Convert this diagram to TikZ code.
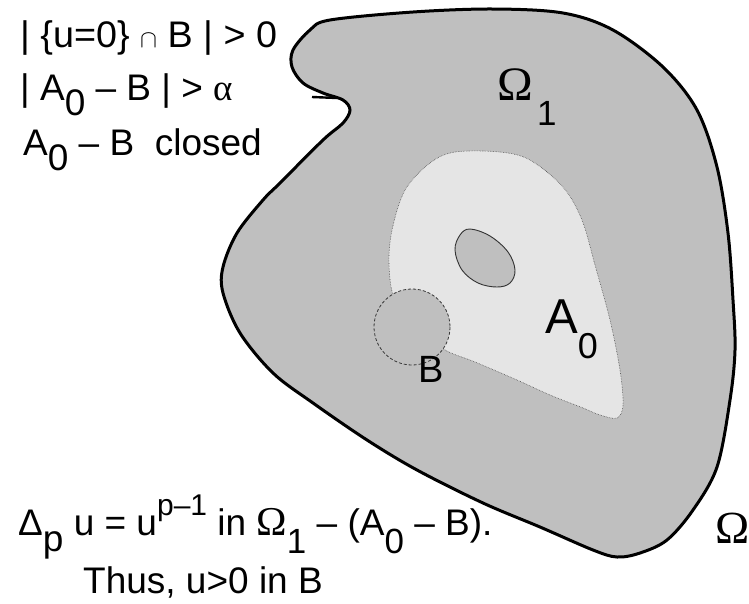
\documentclass[tikz,border=0pt]{standalone}
\usepackage{graphicx}
\usepackage{fontspec}
\setmainfont{Liberation Sans}
\newfontfamily\greekserif{Liberation Serif}
\definecolor{darkfill}{gray}{0.75}
\definecolor{lightfill}{gray}{0.9}
\newcommand\lowsub[2]{\raisebox{-#1pt}{#2}}
\begin{document}
\begin{tikzpicture}[x=1pt,y=-1pt,
  lbl/.style={anchor=base west,inner sep=0pt,font=\fontsize{37}{42}\selectfont},
  bigsym/.style={anchor=base west,inner sep=0pt}]
\useasboundingbox (0,0) rectangle (749,603);
\fill[white] (0,0) rectangle (749,603);
% outer domain Omega_1
\draw[line width=3pt,fill=darkfill] plot[smooth cycle,tension=0.55] coordinates {
  (330,20) (413,12) (493,9) (563,13) (613,30) (663,67) (697,110) (717,167)
  (728,233) (733,300) (735,350) (730,400) (717,467) (693,510) (667,540)
  (640,553) (617,557) (593,550) (540,527) (483,503) (417,470) (367,440)
  (313,403) (273,373) (240,333) (223,293) (223,267) (237,233) (263,200)
  (280,183) (323,140) (343,123) (350,110) (343,100) (323,93) (303,83)
  (292,67) (293,50) (310,30)};
\draw[line width=2.4pt] (312,97) -- (337,98);
% the set A_0
\draw[densely dotted,line width=0.6pt,gray!60!black,fill=lightfill] plot[smooth cycle,tension=0.55] coordinates {
  (455,152) (500,152) (530,160) (563,187) (582,220) (595,265) (610,320)
  (620,370) (623,405) (617,418) (600,415) (583,408) (550,395) (517,380)
  (475,362) (445,350) (420,330) (395,300) (389,265) (392,230) (405,190)
  (430,163)};
% hole inside A_0
\draw[line width=0.9pt,gray!40!black,fill=darkfill] plot[smooth cycle,tension=0.6] coordinates {
  (470,229) (490,236) (508,252) (515,270) (510,283) (497,287) (478,283)
  (462,270) (455,250) (460,235)};
% the ball B
\draw[dash pattern=on 3pt off 2pt,line width=0.8pt,gray!45!black,fill=darkfill] (412,327) circle (38);
% labels in the picture
\node[bigsym] (omega1) at (497,100) {\greekserif\fontsize{48}{52}\selectfont Ω};
\node[bigsym,font=\fontsize{35}{40}\selectfont] (one) at (537,125) {1};
\node[bigsym,font=\fontsize{49}{54}\selectfont] (azero) at (545,333) {A\lowsub{25}{\fontsize{36}{40}\selectfont 0}};
\node[bigsym,font=\fontsize{38}{42}\selectfont] (ball) at (418,382) {B};
\node[bigsym] (omega) at (715,543) {\greekserif\fontsize{46}{50}\selectfont Ω};
% statements
\node[lbl] (cond1) at (20,47) {\scalebox{1.02}[1]{| \{u=0\} $\cap$ B | > 0}};
\node[lbl] (cond2) at (20,100) {| A\lowsub{15}{0} – B | > {\greekserif α}};
\node[lbl] (cond3) at (23,155) {A\lowsub{15}{0} – B\ \ closed};
\node[lbl] (eqn) at (18,535)
  {Δ\lowsub{16}{p} u = u\raisebox{20pt}{\fontsize{30}{34}\selectfont p–1} in {\greekserif\fontsize{41}{44}\selectfont Ω}\lowsub{18}{\fontsize{35}{40}\selectfont 1} – (A\lowsub{18}{\fontsize{35}{40}\selectfont 0} – B).};
\node[lbl] (thus) at (83,593) {Thus, u>0 in B};
\end{tikzpicture}
\end{document}
